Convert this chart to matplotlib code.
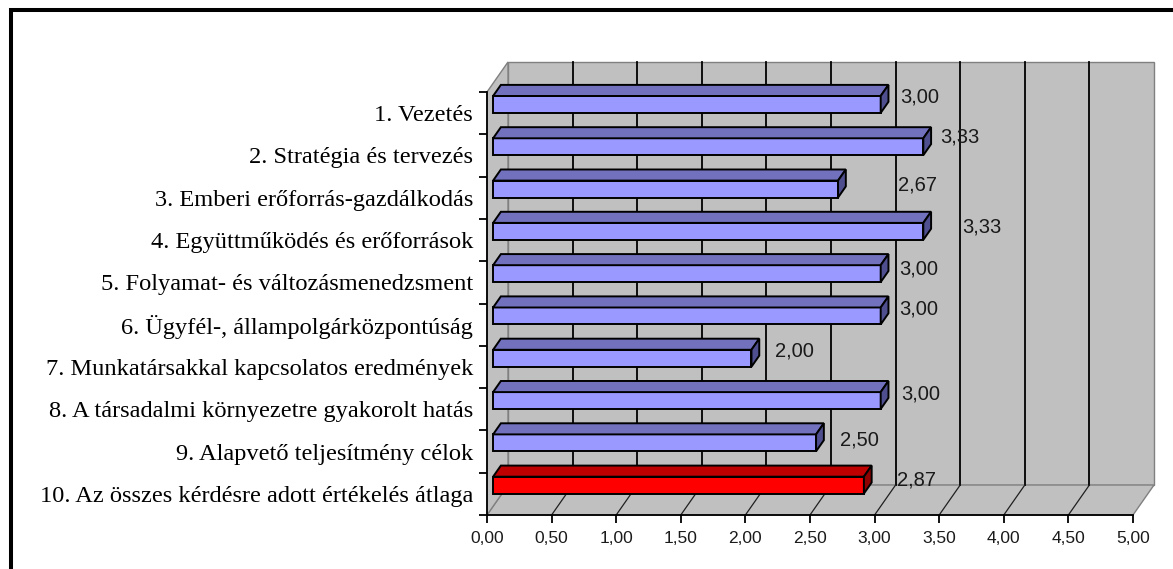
import matplotlib.pyplot as plt
from matplotlib.patches import Polygon, Rectangle
from matplotlib.ticker import FuncFormatter

categories = [
    "1. Vezetés",
    "2. Stratégia és tervezés",
    "3. Emberi erőforrás-gazdálkodás",
    "4. Együttműködés és erőforrások",
    "5. Folyamat- és változásmenedzsment",
    "6. Ügyfél-, állampolgárközpontúság",
    "7. Munkatársakkal kapcsolatos eredmények",
    "8. A társadalmi környezetre gyakorolt hatás",
    "9. Alapvető teljesítmény célok",
    "10. Az összes kérdésre adott értékelés átlaga",
]
values = [3.00, 3.33, 2.67, 3.33, 3.00, 3.00, 2.00, 3.00, 2.50, 2.87]
x_ticks = [0, 0.5, 1.0, 1.5, 2.0, 2.5, 3.0, 3.5, 4.0, 4.5, 5.0]

W, H = 1173, 569
PX_X = 129.2   # pixels per value unit
PX_Y = 42.3    # pixels per category
DX = 21 / PX_X     # depth shift of the back wall, value units
DY = -30 / PX_Y    # depth shift of the back wall, category units (up)
D0, D1 = 0.29, 0.66  # bar depth range
BAR_H = 0.40

WALL = "#c0c0c0"
WALL_EDGE = "#808080"
BLUE = ("#9999ff", "#7171bd", "#4f4f8f")
RED = ("#ff0000", "#bf0000", "#8f0000")

# per-label placement (px right / px down from the bar's back top corner)
label_dx = [12, 9, 52, 31, 11, 11, 16, 13, 16, 25]
label_dy = [12, 10, 16, 15, 15, 13, 12, 13, 17, 14]


def P(v, y, d):
    return (v + d * DX, y + d * DY)


def comma(v, pos=None):
    return f"{v:.2f}".replace(".", ",")


fig = plt.figure(figsize=(W / 100, H / 100), dpi=100)
fig.patch.set_facecolor("white")
ax = fig.add_axes([487 / W, (H - 515) / H, 646 / W, 423 / H])
ax.set_xlim(0, 5)
ax.set_ylim(10, 0)
ax.patch.set_visible(False)

n = len(categories)
xmax = x_ticks[-1]

# walls
back = Polygon([P(0, 0, 1), P(xmax, 0, 1), P(xmax, n, 1), P(0, n, 1)],
               closed=True, fc=WALL, ec=WALL_EDGE, lw=1.0, zorder=0.5, clip_on=False)
floor = Polygon([P(0, n, 0), P(xmax, n, 0), P(xmax, n, 1), P(0, n, 1)],
                closed=True, fc=WALL, ec=WALL_EDGE, lw=1.0, zorder=0.5, clip_on=False)
side = Polygon([P(0, 0, 0), P(0, 0, 1), P(0, n, 1), P(0, n, 0)],
               closed=True, fc=WALL, ec=WALL_EDGE, lw=1.0, zorder=0.5, clip_on=False)
for p in (back, floor, side):
    ax.add_patch(p)

# gridlines on back wall and floor
for v in x_ticks[1:-1]:
    xs, ys = zip(P(v, 0, 1), P(v, n, 1))
    ax.plot(xs, ys, color="black", lw=1.3, zorder=1, clip_on=False)
    xs, ys = zip(P(v, n, 0), P(v, n, 1))
    ax.plot(xs, ys, color="#202020", lw=0.9, zorder=1, clip_on=False)

# bars
for i, v in enumerate(values):
    front, top, right = RED if i == n - 1 else BLUE
    yc = i + 0.5
    y0 = yc - BAR_H / 2
    y1 = yc + BAR_H / 2
    ax.barh(yc + D0 * DY, v, left=D0 * DX, height=BAR_H, color=front,
            edgecolor="black", lw=1.4, zorder=3, clip_on=False)
    ax.add_patch(Polygon([P(0, y0, D0), P(v, y0, D0), P(v, y0, D1), P(0, y0, D1)],
                         closed=True, fc=top, ec="black", lw=1.4, zorder=3, clip_on=False))
    ax.add_patch(Polygon([P(v, y0, D0), P(v, y1, D0), P(v, y1, D1), P(v, y0, D1)],
                         closed=True, fc=right, ec="black", lw=1.4, zorder=3, clip_on=False))
    ax.annotate(comma(v), xy=P(v, y0, D1),
                xytext=(label_dx[i] * 0.72, -label_dy[i] * 0.72), textcoords="offset points",
                ha="left", va="center", fontsize=14.5, family="Liberation Sans",
                color="#1a1a1a", zorder=4, annotation_clip=False)

# axes lines and ticks
for s in ("top", "right"):
    ax.spines[s].set_visible(False)
for s in ("bottom", "left"):
    ax.spines[s].set_linewidth(1.3)
    ax.spines[s].set_zorder(2.5)

ax.set_xticks(x_ticks)
ax.set_xticklabels([comma(v) for v in x_ticks], family="Liberation Sans", fontsize=12.5)
ax.tick_params(axis="x", direction="out", length=5.8, width=1.3, pad=6,
               labelcolor="#1a1a1a")

ax.set_yticks(range(n + 1))
ax.set_yticklabels([])
ax.set_yticks([i + 0.5 for i in range(n)], minor=True)
ax.set_yticklabels(categories, minor=True, fontsize=17.6, family="Liberation Serif")
ax.tick_params(axis="y", which="major", direction="out", length=5.8, width=1.3)
ax.tick_params(axis="y", which="minor", length=0, pad=10)

# frame (left and top edges only visible)
fig.add_artist(Rectangle((10.5 / W, -0.2), 2, (H - 10.5) / H + 0.2, transform=fig.transFigure,
                         fill=False, ec="black", lw=2.9))

fig.savefig("out.png", dpi=100)
